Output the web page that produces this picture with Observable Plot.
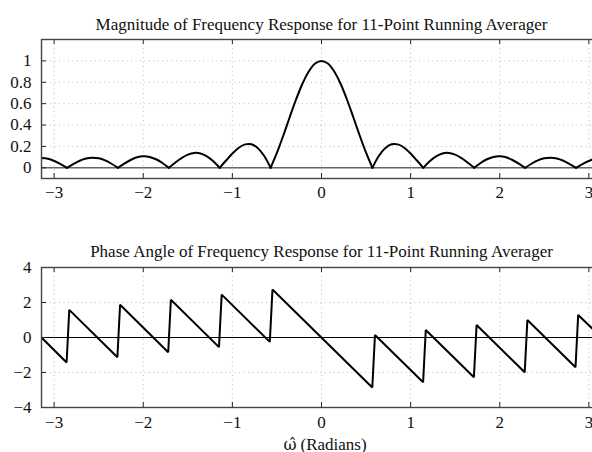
<!DOCTYPE html>
<html><head><meta charset="utf-8">
<script src="https://cdn.jsdelivr.net/npm/d3@7"></script>
<script src="https://cdn.jsdelivr.net/npm/@observablehq/plot@0.6"></script>
<style>
html,body{margin:0;padding:0;background:#fff;overflow:hidden;width:592px;height:452px}
#magPanel,#phasePanel{position:absolute;left:0;width:602px}
#magPanel{top:0}
#phasePanel{top:215px}
svg{display:block;max-width:none !important}
svg text{font-family:'Liberation Serif','Times New Roman',serif !important;font-variant:normal !important;font-variant-numeric:normal !important}
svg text.omega{font-style:italic}
</style></head><body><div id="magPanel"></div><div id="phasePanel"></div>
<script>
// ---- data ----
const magTitle = "Magnitude of Frequency Response for 11-Point Running Averager";
const phaseTitle = "Phase Angle of Frequency Response for 11-Point Running Averager";
const xLabelSymbol = "\u03C9\u0302";
const xLabelUnit = "(Radians)";
const xTicks = [-3, -2, -1, 0, 1, 2, 3];
const magTicks = [0, 0.2, 0.4, 0.6, 0.8, 1];
const phaseTicks = [-4, -2, 0, 2, 4];

// magnitude, one array per lobe (omega, |H|)
const lobeOmega = [
  [-3.1416, -3.0702, -2.9988, -2.9274, -2.856],
  [-2.856, -2.7846, -2.7132, -2.6418, -2.5704, -2.499, -2.4276, -2.3562, -2.2848],
  [-2.2848, -2.2134, -2.142, -2.0706, -1.9992, -1.9278, -1.8564, -1.785, -1.7136],
  [-1.7136, -1.6422, -1.5708, -1.4994, -1.428, -1.3566, -1.2852, -1.2138, -1.1424],
  [-1.1424, -1.071, -0.9996, -0.9282, -0.8568, -0.7854, -0.714, -0.6426, -0.5712],
  [-0.5712, -0.4998, -0.4284, -0.357, -0.2856, -0.2142, -0.1428, -0.0714, 0, 0.0714, 0.1428, 0.2142, 0.2856, 0.357, 0.4284, 0.4998, 0.5712],
  [0.5712, 0.6426, 0.714, 0.7854, 0.8568, 0.9282, 0.9996, 1.071, 1.1424],
  [1.1424, 1.2138, 1.2852, 1.3566, 1.428, 1.4994, 1.5708, 1.6422, 1.7136],
  [1.7136, 1.785, 1.8564, 1.9278, 1.9992, 2.0706, 2.142, 2.2134, 2.2848],
  [2.2848, 2.3562, 2.4276, 2.499, 2.5704, 2.6418, 2.7132, 2.7846, 2.856],
  [2.856, 2.9274, 2.9988, 3.0702, 3.1416]
];
const lobeMag = [
  [0.091, 0.084, 0.064, 0.035, 0],
  [0, 0.035, 0.066, 0.087, 0.095, 0.089, 0.069, 0.038, 0],
  [0, 0.039, 0.073, 0.098, 0.108, 0.102, 0.080, 0.045, 0],
  [0, 0.048, 0.091, 0.123, 0.139, 0.134, 0.107, 0.061, 0],
  [0, 0.068, 0.134, 0.188, 0.219, 0.220, 0.184, 0.110, 0],
  [0, 0.141, 0.302, 0.473, 0.639, 0.786, 0.901, 0.975, 1, 0.975, 0.901, 0.786, 0.639, 0.473, 0.302, 0.141, 0],
  [0, 0.110, 0.184, 0.220, 0.219, 0.188, 0.134, 0.068, 0],
  [0, 0.061, 0.107, 0.134, 0.139, 0.123, 0.091, 0.048, 0],
  [0, 0.045, 0.080, 0.102, 0.108, 0.098, 0.073, 0.039, 0],
  [0, 0.038, 0.069, 0.089, 0.095, 0.087, 0.066, 0.035, 0],
  [0, 0.035, 0.064, 0.084, 0.091]
];

// phase, vertices of the sawtooth
const phaseOmega = [-3.1416, -2.86, -2.83, -2.29, -2.26, -1.72, -1.69, -1.15, -1.12, -0.58, -0.55,
  0.57, 0.60, 1.14, 1.17, 1.71, 1.74, 2.28, 2.31, 2.85, 2.88, 3.1416];
const phaseValue = [0, -1.43, 1.58, -1.13, 1.87, -0.84, 2.16, -0.55, 2.45, -0.25, 2.74,
  -2.86, 0.14, -2.56, 0.43, -2.27, 0.71, -1.99, 1.0, -1.70, 1.29, 0.0];

// ---- tables ----
const magData = lobeOmega.flatMap((xs, k) => xs.map((w, i) => ({w, m: lobeMag[k][i], lobe: k})));
const phaseData = phaseOmega.map((w, i) => ({w, p: phaseValue[i]}));

const W = 602, ML = 41, MR = 1;
const font = "'Liberation Serif', 'Times New Roman', serif";
const fmt = d => (d < 0 ? "\u2212" + (-d) : String(d));
const grid = {stroke: "#888", strokeOpacity: 0.55, strokeDasharray: "1,3.5", strokeWidth: 1};
const tickCol = "#222";

function panel({height, mt, mb, yDomain, yTicks, lineMark, title, titleDy, xPad, extra, after}) {
  const ph = height - mt - mb, pw = W - ML - MR;
  const svg = Plot.plot({
    width: W, height, marginLeft: ML, marginRight: MR, marginTop: mt, marginBottom: mb,
    style: {fontFamily: font, fontSize: "16px", color: "#111", background: "white", overflow: "visible"},
    x: {domain: [-Math.PI, Math.PI], axis: null},
    y: {domain: yDomain, axis: null},
    marks: [
      Plot.gridX(xTicks, grid),
      Plot.gridY(yTicks, grid),
      ...extra,
      lineMark,
      Plot.ruleX(xTicks, {x: d => d, insetTop: ph - 5, stroke: tickCol}),
      Plot.ruleX(xTicks, {x: d => d, insetBottom: ph - 5, stroke: tickCol}),
      Plot.ruleY(yTicks, {y: d => d, insetRight: pw - 5, stroke: tickCol}),
      Plot.frame({stroke: "#444", strokeWidth: 1.4}),
      // tick labels
      Plot.text(xTicks, {x: d => d, text: fmt, frameAnchor: "bottom", dy: xPad, lineAnchor: "top", fontSize: 17, fill: "#111"}),
      Plot.text(yTicks, {y: d => d, text: fmt, frameAnchor: "left", dx: -10, textAnchor: "end", fontSize: 17, fill: "#111"}),
      Plot.text([title], {frameAnchor: "top", dy: titleDy, lineAnchor: "bottom", fontSize: 17, fill: "#111"}),
      ...after
    ]
  });
  svg.style.maxWidth = "none";
  svg.style.width = W + "px";
  return svg;
}

const magSvg = panel({
  height: 215, mt: 39, mb: 37, yDomain: [-0.1, 1.2], yTicks: magTicks,
  title: magTitle, titleDy: -10, xPad: 7,
  extra: [Plot.ruleY([0], {stroke: "#666", strokeWidth: 1.6})],
  after: [],
  lineMark: Plot.line(magData, {x: "w", y: "m", z: "lobe", curve: "catmull-rom", stroke: "#000", strokeWidth: 2, clip: true})
});
document.getElementById("magPanel").append(magSvg);

const phaseSvg = panel({
  height: 237, mt: 52, mb: 45, yDomain: [-4, 4], yTicks: phaseTicks,
  title: phaseTitle, titleDy: -11, xPad: 8,
  extra: [Plot.ruleY([0], {stroke: "#000", strokeWidth: 1})],
  after: [
    Plot.text([xLabelSymbol], {frameAnchor: "bottom", dy: 42, dx: -25, lineAnchor: "bottom", textAnchor: "end", fontSize: 16, fill: "#111"}),
    Plot.text([xLabelUnit], {frameAnchor: "bottom", dy: 42, dx: -21, lineAnchor: "bottom", textAnchor: "start", fontSize: 17, fill: "#111"})
  ],
  lineMark: Plot.line(phaseData, {x: "w", y: "p", stroke: "#000", strokeWidth: 2, strokeLinejoin: "miter", clip: true})
});
document.getElementById("phasePanel").append(phaseSvg);
// use a font with proper mark positioning for the combining circumflex
phaseSvg.querySelectorAll("text").forEach(t => {
  if (t.textContent === xLabelSymbol) t.style.setProperty("font-family", "'DejaVu Serif', serif", "important");
});
</script></body></html>
